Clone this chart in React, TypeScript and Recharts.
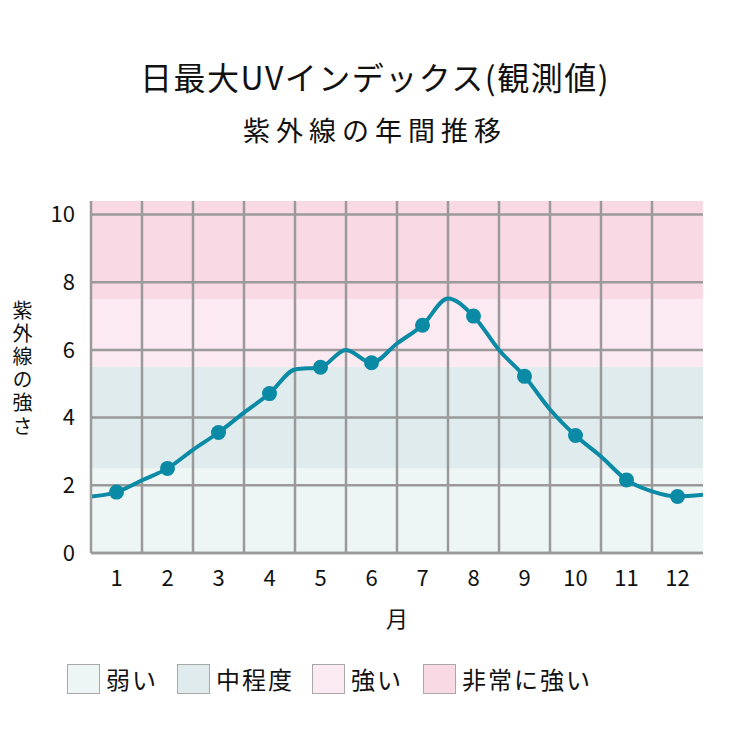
import React from "react";
import {
  ComposedChart,
  Line,
  Scatter,
  XAxis,
  YAxis,
  ReferenceArea,
  ReferenceLine,
} from "recharts";

const months = [1, 2, 3, 4, 5, 6, 7, 8, 9, 10, 11, 12];
const monthlyUv = [1.8, 2.5, 3.56, 4.71, 5.49, 5.62, 6.73, 7.0, 5.22, 3.47, 2.16, 1.67];

// curve drawn through half-month points too
const curveX = [
  0.5, 1, 1.5, 2, 2.5, 3, 3.5, 4, 4.5, 5, 5.5, 6, 6.5, 7, 7.5, 8, 8.5, 9, 9.5, 10, 10.5, 11, 11.5, 12, 12.5,
];
const curveUv = [
  1.67, 1.8, 2.15, 2.5, 3.05, 3.56, 4.15, 4.71, 5.42, 5.49, 6.0, 5.62, 6.19, 6.73, 7.52, 7.0, 6.0, 5.22, 4.24,
  3.47, 2.85, 2.16, 1.82, 1.67, 1.72,
];

const yTicks = [0, 2, 4, 6, 8, 10];
const monthEdges = [1.5, 2.5, 3.5, 4.5, 5.5, 6.5, 7.5, 8.5, 9.5, 10.5, 11.5];

const bandNames = ["弱い", "中程度", "強い", "非常に強い"];
const bandFrom = [0, 2.5, 5.5, 7.5];
const bandTo = [2.5, 5.5, 7.5, 10.4];
const bandColors = ["#eef5f5", "#dfebed", "#fbeaf1", "#f9d9e4"];

const FONT = "'Noto Sans CJK JP', 'Noto Sans', sans-serif";
const GRID = "#9a9a9a";
const LINE = "#0b8aa6";

const curveData = curveX.map((x, i) => ({ x, uv: curveUv[i] }));
const dotData = months.map((m, i) => ({ x: m, uv: monthlyUv[i] }));

const legendX = [67, 177, 312, 423];

const App = () => {
  return (
    <div
      style={{
        position: "absolute",
        left: 0,
        top: 0,
        width: 750,
        height: 750,
        background: "#fff",
        fontFamily: FONT,
      }}
    >
      <div
        style={{
          position: "absolute",
          top: 55,
          width: 750,
          textAlign: "center",
          fontSize: 32,
          letterSpacing: 1.5,
          color: "#111",
          lineHeight: "42px",
        }}
      >
        日最大UVインデックス(観測値)
      </div>
      <div
        style={{
          position: "absolute",
          top: 110,
          width: 750,
          textAlign: "center",
          fontSize: 27,
          letterSpacing: 6,
          color: "#111",
          lineHeight: "40px",
        }}
      >
        紫外線の年間推移
      </div>
      <div style={{ position: "absolute", left: 0, top: 0 }}>
        <ComposedChart
          width={750}
          height={750}
          margin={{ top: 201, right: 47, left: 0, bottom: 117 }}
        >
          {bandNames.map((n, i) => (
            <ReferenceArea
              key={n}
              y1={bandFrom[i]}
              y2={bandTo[i]}
              x1={0.5}
              x2={12.5}
              fill={bandColors[i]}
              fillOpacity={1}
              stroke="none"
              ifOverflow="hidden"
            />
          ))}
          {yTicks.map((t) => (
            <ReferenceLine key={"h" + t} y={t} stroke={GRID} strokeWidth={2.5} />
          ))}
          {monthEdges.map((e) => (
            <ReferenceLine key={"v" + e} x={e} stroke={GRID} strokeWidth={2.5} />
          ))}
          <XAxis
            dataKey="x"
            type="number"
            domain={[0.5, 12.5]}
            ticks={months}
            allowDataOverflow
            tickLine={false}
            axisLine={{ stroke: GRID, strokeWidth: 2.5 }}
            tick={{ fill: "#111", fontSize: 22, fontFamily: FONT }}
            tickMargin={11}
            height={80}
            label={{
              value: "月",
              position: "insideBottom",
              offset: 6,
              fontSize: 22,
              fill: "#111",
              fontFamily: FONT,
            }}
          />
          <YAxis
            type="number"
            domain={[0, 10.4]}
            ticks={yTicks}
            allowDataOverflow
            tickLine={false}
            axisLine={{ stroke: GRID, strokeWidth: 2.5 }}
            tick={{ fill: "#111", fontSize: 22, fontFamily: FONT }}
            tickMargin={10}
            width={91}
          />
          <Line
            data={curveData}
            dataKey="uv"
            type="monotone"
            stroke={LINE}
            strokeWidth={4}
            dot={false}
            activeDot={false}
            isAnimationActive={false}
          />
          <Scatter
            data={dotData}
            dataKey="uv"
            fill={LINE}
            shape={(p: any) => <circle cx={p.cx} cy={p.cy} r={7.5} fill={LINE} />}
            isAnimationActive={false}
          />
        </ComposedChart>
      </div>
      {/* y axis title, vertical */}
      <div
        style={{
          position: "absolute",
          left: 10,
          top: 300,
          writingMode: "vertical-rl",
          textOrientation: "upright",
          fontSize: 20,
          letterSpacing: 3.2,
          lineHeight: "24px",
          color: "#111",
        }}
      >
        紫外線の強さ
      </div>
      {bandNames.map((n, i) => (
        <div
          key={n}
          style={{
            position: "absolute",
            left: legendX[i],
            top: 661,
            display: "flex",
            alignItems: "center",
          }}
        >
          <div
            style={{
              width: 31,
              height: 28,
              background: bandColors[i],
              border: "1.5px solid #a8a8a8",
            }}
          />
          <span style={{ marginLeft: 6, fontSize: 24, color: "#111", letterSpacing: 2 }}>{n}</span>
        </div>
      ))}
    </div>
  );
};

export default App;
